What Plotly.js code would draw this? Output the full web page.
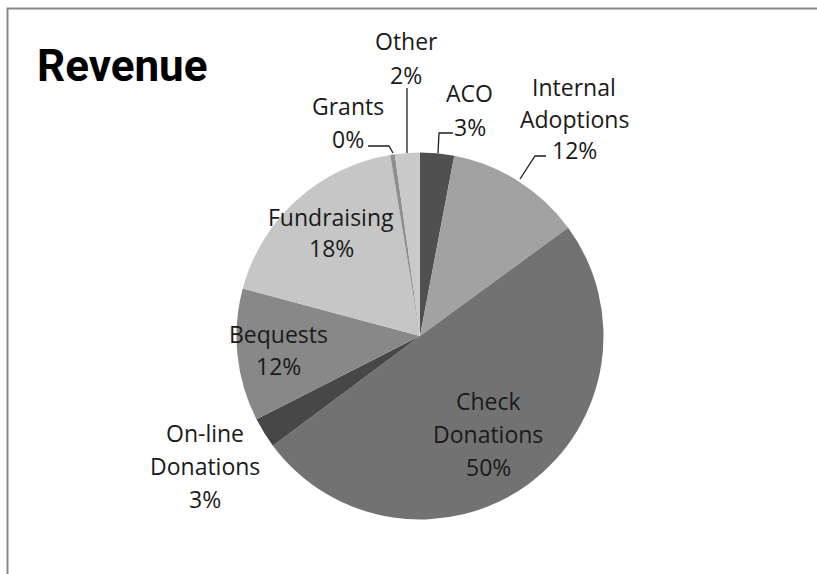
<!DOCTYPE html>
<html>
<head>
<meta charset="utf-8">
<script src="https://cdn.plot.ly/plotly-3.0.1.min.js"></script>
<style>html,body{margin:0;padding:0;background:#fff;}#chart{width:817px;height:574px;}</style>
</head>
<body>
<div id="chart"></div>
<script>
// Data (clockwise from 12 o'clock)
var categories = ["ACO", "Internal Adoptions", "Check Donations", "On-line Donations", "Bequests", "Fundraising", "Grants", "Other"];
var values = [3.0, 12.0, 50.0, 2.7, 11.7, 18.3, 0.4, 2.2];
var labelLines = [["ACO"], ["Internal", "Adoptions"], ["Check", "Donations"], ["On-line", "Donations"], ["Bequests"], ["Fundraising"], ["Grants"], ["Other"]];
var sliceColors = ["#505050", "#a2a2a2", "#727272", "#474747", "#888888", "#c6c6c6", "#8e8e8e", "#c9c9c9"];
var chartTitle = "Revenue";

var W = 817, H = 574;
function px(x) { return x / W; }
function py(y) { return 1 - y / H; }

var total = values.reduce(function (a, b) { return a + b; }, 0);
var pctText = values.map(function (v) { return Math.round(v / total * 100) + "%"; });

// label placement: [center x, first line center y, line spacing]
var labelPos = [
  [470, 93, 34],
  [574, 87, 31.5],
  [488, 401, 33],
  [205, 433, 33],
  [278, 334, 32],
  [331, 217, 31],
  [348, 106, 33],
  [406, 41, 34]
];

var annotations = [];
categories.forEach(function (c, i) {
  var lines = labelLines[i].concat([pctText[i]]);
  lines.forEach(function (t, k) {
    annotations.push({
      text: t, xref: "paper", yref: "paper",
      x: px(labelPos[i][0]), y: py(labelPos[i][1] + k * labelPos[i][2]),
      xanchor: "center", yanchor: "middle", showarrow: false,
      font: {family: "Open Sans, Noto Sans, sans-serif", size: 23, color: "#1a1a1a"}
    });
  });
});

annotations.push({
  text: "<b>" + chartTitle + "</b>", xref: "paper", yref: "paper",
  x: px(122), y: py(66), xanchor: "center", yanchor: "middle", showarrow: false,
  font: {family: "Roboto, Open Sans, sans-serif", size: 44, color: "#000000"}
});

function path(pts) {
  return pts.map(function (p, i) { return (i ? "L" : "M") + px(p[0]) + "," + py(p[1]); }).join(" ");
}
var lineStyle = {color: "#1e1e1e", width: 1.3};
var shapes = [
  // leader lines
  {type: "path", xref: "paper", yref: "paper", path: path([[407, 88], [407, 153]]), line: lineStyle},
  {type: "path", xref: "paper", yref: "paper", path: path([[368, 146], [389, 146], [393, 153]]), line: lineStyle},
  {type: "path", xref: "paper", yref: "paper", path: path([[438, 153], [439, 133], [453, 133]]), line: lineStyle},
  {type: "path", xref: "paper", yref: "paper", path: path([[520, 179], [535, 156], [546, 156]]), line: lineStyle},
  // chart frame (top and left edges)
  {type: "path", xref: "paper", yref: "paper", path: path([[7.5, 574], [7.5, 8.5], [817, 8.5]]), line: {color: "#888888", width: 2}}
];

var trace = {
  type: "pie",
  labels: categories,
  values: values,
  sort: false,
  direction: "clockwise",
  rotation: 0,
  textinfo: "none",
  hoverinfo: "none",
  marker: {colors: sliceColors, line: {width: 0}},
  domain: {x: [px(420 - 183.5), px(420 + 183.5)], y: [py(336 + 183.5), py(336 - 183.5)]},
  showlegend: false
};

var layout = {
  width: W, height: H,
  margin: {l: 0, r: 0, t: 0, b: 0},
  paper_bgcolor: "#ffffff",
  showlegend: false,
  annotations: annotations,
  shapes: shapes
};

Plotly.newPlot("chart", [trace], layout, {displayModeBar: false, staticPlot: true});
</script>
</body>
</html>
